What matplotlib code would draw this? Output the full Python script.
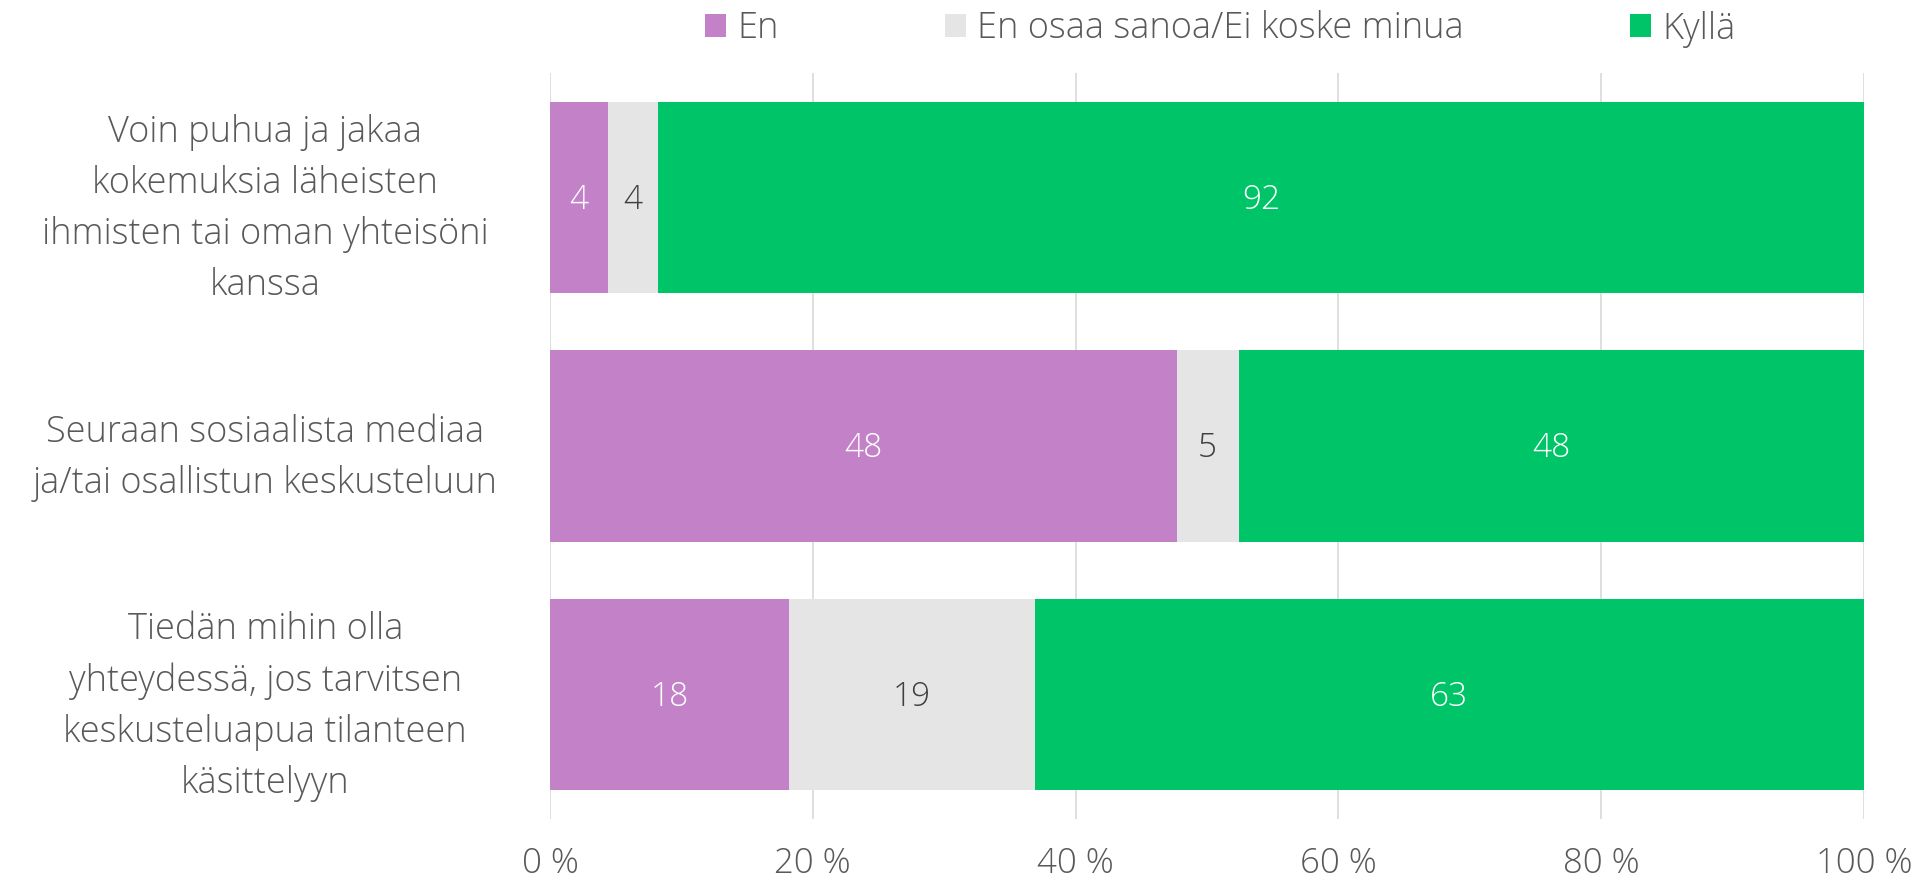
import matplotlib
matplotlib.use("Agg")
import matplotlib.pyplot as plt
import numpy as np

# ── data ──────────────────────────────────────────────────────────────────────────
categories = [
    "Voin puhua ja jakaa\nkokemuksia läheisten\nihmisten tai oman yhteisöni\nkanssa",
    "Seuraan sosiaalista mediaa\nja/tai osallistun keskusteluun",
    "Tiedän mihin olla\nyhteydessä, jos tarvitsen\nkeskusteluapua tilanteen\nkäsittelyyn",
]
series_names = ["En", "En osaa sanoa/Ei koske minua", "Kyllä"]
en = [4.4, 47.7, 18.2]
eos = [3.8, 4.7, 18.7]
kylla = [91.8, 47.6, 63.1]
xticks = [0, 20, 40, 60, 80, 100]

colors = ["#C382C8", "#E5E5E5", "#00C468"]
label_colors = ["white", "#404040", "white"]
TXT = "#595959"
FONT = "Open Sans"

plt.rcParams["font.family"] = [FONT, "DejaVu Sans"]
plt.rcParams["font.weight"] = "light"

fig = plt.figure(figsize=(19.16, 8.83), dpi=100)
ax = fig.add_axes([550 / 1916, 1 - 819 / 883, (1864 - 550) / 1916, (819 - 73) / 883])

y = np.arange(len(categories))
left = np.zeros(len(categories))
handles = []
for vals, name, col, lc in zip([en, eos, kylla], series_names, colors, label_colors):
    vals = np.asarray(vals)
    b = ax.barh(y, vals, left=left, height=0.77, color=col, label=name, zorder=2)
    handles.append(b)
    for yi, (l, v) in enumerate(zip(left, vals)):
        ax.text(l + v / 2, yi + 0.01, f"{v:.0f}", ha="center", va="center",
                color=lc, fontsize=24, zorder=3)
    left += vals

ax.set_xlim(0, 100)
ax.set_ylim(len(categories) - 0.5, -0.5)
ax.set_xticks(xticks)
ax.set_xticklabels([f"{t} %" for t in xticks], fontsize=25, color=TXT)
ax.set_yticks(y)
ax.set_yticklabels(categories, fontsize=26, color=TXT, ha="center", linespacing=1.5)
ax.tick_params(axis="y", length=0, pad=205)
ax.tick_params(axis="x", length=0, pad=20)
ax.grid(axis="x", color="#D9D9D9", linewidth=1.2, zorder=0)
for s in ax.spines.values():
    s.set_visible(False)

fig.legend(handles=handles, labels=series_names, loc="center", ncol=3,
           bbox_to_anchor=(1220 / 1916, 1 - 29 / 883), frameon=False,
           fontsize=26, labelcolor=TXT, handlelength=0.6, handleheight=0.6,
           handletextpad=0.3, columnspacing=4.6)

fig.savefig("out.png", dpi=100)
